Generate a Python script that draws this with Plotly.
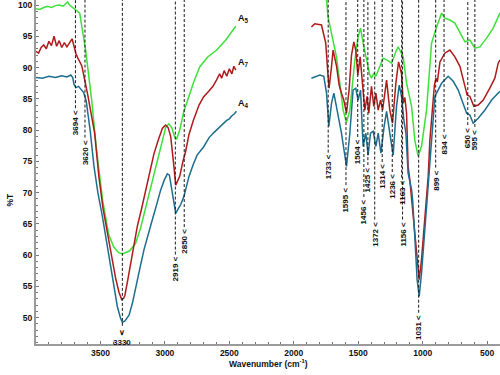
import plotly.graph_objects as go

# ---------------- data (wavenumber cm-1, %T) ----------------
green_left_wn = [4000, 3970, 3940, 3910, 3880, 3850, 3820, 3790, 3770, 3755, 3740, 3720, 3700, 3680, 3661,
                 3615, 3568, 3530, 3483, 3436, 3397, 3359, 3328, 3273, 3227, 3188, 3149, 3110, 3071, 3032,
                 2994, 2970, 2947, 2924, 2908, 2885, 2854, 2823, 2776, 2730, 2668, 2598, 2528, 2450]
green_left_t = [99.4, 99.3, 99.6, 99.8, 99.6, 99.9, 100.0, 99.8, 100.2, 100.5, 100.0, 99.7, 99.4, 99.1, 98.7,
                92.8, 84.8, 76.8, 68.8, 63.3, 61.3, 60.4, 60.2, 60.7, 61.9, 64.4, 67.7, 70.9, 74.1, 77.5,
                80.4, 81.0, 80.4, 78.9, 78.6, 80.0, 82.9, 84.8, 87.7, 90.1, 91.7, 92.8, 94.4, 96.6]
green_right_wn = [1760, 1746, 1734, 1707, 1669, 1643, 1617, 1591, 1565, 1544, 1526, 1501, 1482, 1462, 1436,
                  1410, 1397, 1379, 1363, 1332, 1307, 1276, 1241, 1203, 1190, 1151, 1125, 1086, 1061, 1035,
                  1009, 970, 931, 892, 853, 828, 789, 750, 711, 672, 634, 595, 556, 504, 453, 401]
green_right_t = [102.0, 100.8, 98.1, 95.5, 91.7, 87.5, 83.2, 81.2, 83.2, 87.5, 91.2, 94.9, 96.3, 93.9, 91.2,
                 88.8, 88.3, 89.1, 88.6, 90.2, 91.5, 91.2, 90.7, 92.8, 93.3, 91.7, 87.5, 83.8, 78.4, 75.8,
                 77.4, 83.2, 93.9, 96.5, 98.7, 97.9, 97.6, 97.1, 95.5, 94.1, 94.4, 93.1, 93.3, 94.7, 96.3, 98.7]

red_left_wn = [4000, 3980, 3960, 3940, 3920, 3900, 3880, 3860, 3840, 3820, 3800, 3780, 3760, 3740, 3720,
               3710, 3700, 3690, 3675, 3660, 3645, 3600, 3570, 3545, 3512, 3480, 3446, 3410, 3382, 3355,
               3335, 3320, 3310, 3290, 3266, 3240, 3214, 3180, 3149, 3115, 3085, 3050, 3019, 2994, 2975,
               2955, 2940, 2929, 2916, 2900, 2885, 2860, 2840, 2813, 2780, 2735, 2700, 2660, 2627, 2600,
               2575, 2560, 2540, 2520, 2500, 2480, 2465, 2450]
red_left_t = [92.6, 92.3, 93.2, 93.6, 93.0, 94.2, 93.5, 95.0, 93.4, 94.3, 93.2, 94.0, 93.3, 94.0, 94.6,
              93.8, 92.8, 92.2, 91.5, 90.9, 90.3, 85.8, 82.5, 79.5, 72.5, 67.5, 63.6, 59.5, 56.3, 54.0,
              52.9, 53.1, 53.6, 55.8, 58.4, 61.5, 64.6, 67.5, 70.4, 73.4, 76.2, 78.5, 80.3, 80.8, 80.4,
              79.0, 76.5, 74.0, 71.2, 71.8, 72.6, 75.0, 76.5, 79.3, 81.5, 84.0, 85.3, 86.2, 87.0, 88.0,
              89.0, 88.3, 89.5, 88.6, 89.8, 89.0, 90.2, 89.6]
red_right_wn = [1863, 1837, 1785, 1752, 1734, 1726, 1707, 1695, 1668, 1648, 1630, 1612, 1591, 1571, 1552,
                1534, 1519, 1503, 1485, 1464, 1449, 1431, 1418, 1397, 1379, 1363, 1345, 1327, 1311, 1280,
                1255, 1234, 1208, 1187, 1164, 1151, 1138, 1125, 1113, 1100, 1074, 1048, 1027, 1009, 983,
                957, 944, 925, 909, 897, 886, 866, 828, 789, 750, 711, 672, 655, 634, 603, 569, 530, 479,
                440, 414, 401]
red_right_t = [96.5, 97.0, 96.8, 93.9, 88.6, 86.7, 90.2, 92.8, 90.2, 87.2, 85.9, 84.8, 82.7, 86.4, 92.0,
               94.1, 92.8, 88.8, 91.7, 86.0, 83.2, 85.4, 82.7, 87.0, 83.8, 85.9, 83.2, 84.8, 83.2, 88.0,
               83.2, 81.1, 87.5, 90.9, 89.0, 84.3, 85.2, 82.7, 74.2, 72.1, 66.7, 60.3, 56.1, 59.3, 65.7,
               72.6, 78.4, 83.2, 87.2, 88.3, 87.7, 90.9, 92.3, 92.8, 91.7, 90.2, 87.0, 85.6, 85.4, 83.8,
               84.0, 84.8, 86.7, 88.3, 90.7, 91.2]

blue_left_wn = [4000, 3950, 3900, 3850, 3800, 3760, 3730, 3715, 3705, 3690, 3670, 3650, 3630, 3610, 3580,
                3550, 3520, 3485, 3450, 3421, 3395, 3369, 3345, 3330, 3310, 3278, 3250, 3227, 3195, 3162,
                3130, 3097, 3065, 3033, 3005, 2981, 2965, 2955, 2935, 2916, 2895, 2877, 2852, 2830, 2813,
                2780, 2750, 2700, 2657, 2620, 2580, 2550, 2523, 2500, 2480, 2460, 2445]
blue_left_t = [88.4, 88.3, 88.6, 88.4, 88.7, 88.5, 88.8, 88.4, 87.3, 86.8, 87.0, 86.5, 86.0, 84.6, 80.0,
               74.2, 70.0, 66.2, 62.0, 58.2, 55.0, 51.8, 50.0, 49.25, 49.5, 50.4, 52.5, 54.5, 57.8, 60.9,
               63.4, 65.7, 68.0, 70.4, 72.0, 73.0, 72.8, 71.5, 68.8, 66.7, 67.5, 68.1, 69.4, 71.5, 72.6,
               74.5, 76.0, 77.3, 78.8, 79.6, 80.4, 80.9, 81.5, 81.8, 82.3, 82.6, 83.0]
blue_right_wn = [1863, 1798, 1767, 1746, 1728, 1707, 1689, 1664, 1630, 1591, 1565, 1540, 1519, 1501, 1482,
                 1462, 1441, 1423, 1405, 1384, 1363, 1345, 1324, 1299, 1280, 1255, 1229, 1203, 1182, 1164,
                 1146, 1130, 1113, 1086, 1078, 1061, 1043, 1027, 1009, 983, 957, 931, 905, 880, 853, 802,
                 763, 724, 686, 659, 634, 608, 569, 517, 465, 414, 401]
blue_right_t = [88.3, 88.8, 88.6, 85.9, 80.6, 84.3, 85.9, 83.2, 79.5, 74.2, 79.5, 86.4, 86.7, 84.8, 86.4,
                77.4, 79.5, 76.0, 79.5, 79.8, 77.4, 79.5, 76.3, 80.6, 83.0, 79.5, 76.0, 83.8, 87.2, 85.4,
                81.6, 79.5, 73.1, 70.5, 68.9, 63.0, 56.1, 53.4, 57.1, 64.1, 71.0, 77.4, 85.4, 86.4, 87.5,
                88.6, 87.8, 86.4, 84.3, 82.7, 82.4, 81.1, 81.9, 83.2, 84.8, 85.9, 86.2]

series_names = ["A<sub>5</sub>", "A<sub>7</sub>", "A<sub>4</sub>"]

# band annotations: wavenumber and %T level where the dashed marker ends
band_wn = [3694, 3620, 3330, 2919, 2850, 1733, 1595, 1504, 1456, 1425, 1372, 1314, 1236,
           1163, 1156, 1031, 899, 834, 650, 595]
band_t = [83.5, 78.8, 48.7, 60.1, 64.5, 76.4, 71.2, 78.9, 69.3, 74.4, 65.7, 74.9, 73.3,
          72.4, 65.7, 50.8, 74.0, 79.7, 80.8, 80.5]

x_ticks = [3500, 3000, 2500, 2000, 1500, 1000, 500]
y_ticks = [50, 55, 60, 65, 70, 75, 80, 85, 90, 95, 100]
X_RANGE = [4000, 400]
Y_RANGE = [45.8, 100.8]

# ---------------- figure ----------------
colors = ["#3ee03a", "#b01a1a", "#1d6e8e"]
fig = go.Figure()
all_series = [
    (green_left_wn, green_left_t, green_right_wn, green_right_t),
    (red_left_wn, red_left_t, red_right_wn, red_right_t),
    (blue_left_wn, blue_left_t, blue_right_wn, blue_right_t),
]
for (lw, lt, rw, rt), c, nm in zip(all_series, colors, series_names):
    fig.add_trace(go.Scatter(x=lw + [None] + rw, y=lt + [None] + rt, mode="lines",
                             line=dict(color=c, width=1.5), name=nm, showlegend=False,
                             connectgaps=False))

FONT = "Liberation Sans, Arial"
font_lbl = dict(family=FONT, size=8, color="#111111", weight="bold")

shapes = []
annotations = []
for wn, t in zip(band_wn, band_t):
    shapes.append(dict(type="line", xref="x", yref="y", x0=wn, x1=wn, y0=t, y1=Y_RANGE[1],
                       line=dict(color="#1a1a1a", width=1, dash="3px,2px")))
    if wn == 3330:
        annotations.append(dict(x=wn, y=t, xref="x", yref="y", text="∨<br>3330", showarrow=False,
                                yanchor="top", xanchor="center", font=font_lbl))
    else:
        annotations.append(dict(x=wn, y=t, xref="x", yref="y", text=f"{wn} &lt;", showarrow=False,
                                textangle=-90, yanchor="top", xanchor="center", font=font_lbl))

# series labels at right end of the left segment
for (lw, lt, rw, rt), nm in zip(all_series, series_names):
    annotations.append(dict(x=lw[-1], y=lt[-1], xref="x", yref="y", text=nm, showarrow=False,
                            xanchor="left", yanchor="bottom", xshift=0, yshift=0,
                            font=dict(family=FONT, size=9, color="#111111", weight="bold")))

# axis titles
annotations.append(dict(x=0.5, y=-0.058, xref="paper", yref="paper", text="Wavenumber (cm<sup>-1</sup>)",
                        showarrow=False, xanchor="center", yanchor="middle",
                        font=dict(family=FONT, size=8.5, color="#111111", weight="bold")))
annotations.append(dict(x=-0.056, y=0.42, xref="paper", yref="paper", text="%T", textangle=-90,
                        showarrow=False, xanchor="center", yanchor="middle",
                        font=dict(family=FONT, size=8.5, color="#111111", weight="bold")))

fig.update_layout(
    width=500, height=375,
    margin=dict(l=36, r=0, t=0, b=31, autoexpand=False),
    paper_bgcolor="white", plot_bgcolor="white",
    shapes=shapes, annotations=annotations,
    showlegend=False,
)
fig.update_xaxes(range=X_RANGE, tickvals=x_ticks, showgrid=False, zeroline=False, automargin=False,
                 showline=True, linecolor="#9a9a9a", linewidth=2,
                 ticks="inside", ticklen=3, tickcolor="#777777",
                 minor=dict(dtick=100, ticks="inside", ticklen=2, tickcolor="#777777"),
                 tickfont=dict(family=FONT, size=8.5, color="#111111", weight="bold"),
                 ticklabelstandoff=0, ticklabeloverflow="allow")
fig.update_yaxes(range=Y_RANGE, tickvals=y_ticks, showgrid=False, zeroline=False, automargin=False,
                 showline=True, linecolor="#9a9a9a", linewidth=2,
                 ticks="inside", ticklen=3, tickcolor="#777777",
                 minor=dict(dtick=1, ticks="inside", ticklen=2, tickcolor="#777777"),
                 tickfont=dict(family=FONT, size=8.5, color="#111111", weight="bold"),
                 ticklabeloverflow="allow")

fig.write_html("out.html", config={"displayModeBar": False},
               post_script="document.body.style.margin='0px';document.body.style.padding='0px';")
